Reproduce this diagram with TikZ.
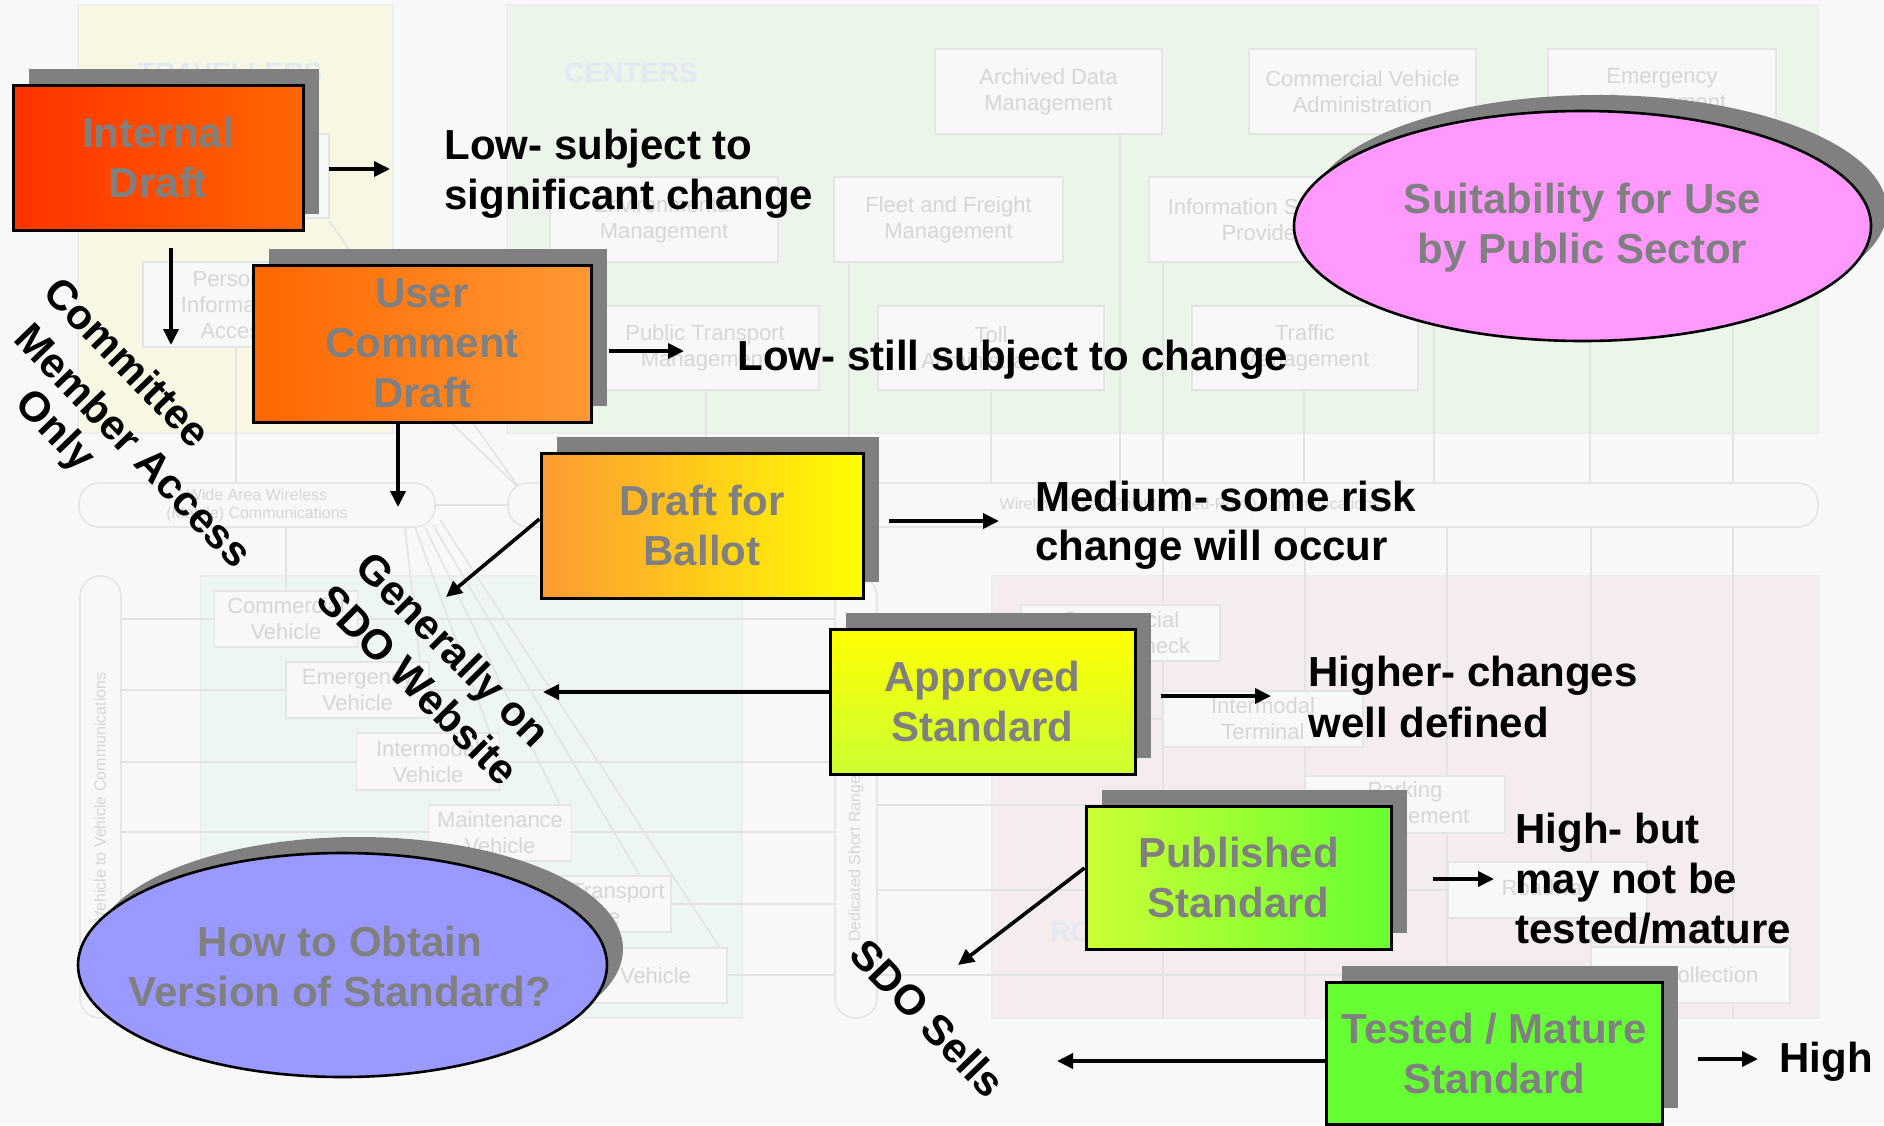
\documentclass[tikz,border=0pt]{standalone}
\usepackage{fontspec}
\setmainfont{Liberation Sans}
\usetikzlibrary{arrows.meta,shapes.geometric,shadows}
\definecolor{bgc}{HTML}{F8F8F8}
\definecolor{travc}{HTML}{F7F7E4}
\definecolor{centc}{HTML}{EBF5EA}
\definecolor{vehc}{HTML}{EDF6F1}
\definecolor{roadc}{HTML}{F5EDED}
\definecolor{panb}{HTML}{EDEDED}
\definecolor{bgboxc}{HTML}{F8F8F8}
\definecolor{bgboxb}{HTML}{E5E5E5}
\definecolor{bgtxt}{HTML}{D6D6D6}
\definecolor{bgline}{HTML}{E3E3E3}
\definecolor{ttlc}{HTML}{E3E8F2}
\definecolor{shadowc}{HTML}{808080}
\definecolor{labelgray}{HTML}{808080}
\definecolor{cA}{HTML}{FF3300}
\definecolor{cB}{HTML}{FF6600}
\definecolor{cC}{HTML}{FF9933}
\definecolor{cD}{HTML}{FFFF00}
\definecolor{cE}{HTML}{CCFF33}
\definecolor{cF}{HTML}{66FF33}
\definecolor{pinkc}{HTML}{FF99FF}
\definecolor{bluec}{HTML}{9999FF}
\newcommand\stagefont{\fontsize{21pt}{25pt}\selectfont\bfseries}
\newcommand\bgfont{\fontsize{11pt}{13pt}\selectfont}
\newcommand\barfont{\fontsize{8pt}{9pt}\selectfont}
\newcommand\ttlfont{\fontsize{14pt}{16pt}\selectfont\bfseries}
\tikzset{
  stage/.style={rectangle, draw=black, line width=1.5pt, font=\stagefont, text=labelgray, align=center, inner sep=0pt,
    general shadow={fill=shadowc, shadow xshift=8pt, shadow yshift=8pt}},
  oval/.style={ellipse, draw=black, line width=1.3pt, inner sep=0pt,
    general shadow={fill=shadowc, shadow xshift=8pt, shadow yshift=8pt}},
  ovaltext/.style={font=\stagefont, text=labelgray, align=center, inner sep=0pt},
  conn/.style={line width=1.8pt, -{Triangle[length=8pt,width=7.5pt]}},
  lbl/.style={anchor=base west, inner sep=0pt, font=\stagefont, text=black},
  slant/.style={font=\stagefont, text=black, inner sep=0pt, rotate=-46, align=center},
  panel/.style={draw=panb, line width=0.8pt},
  bgl/.style={draw=bgline, line width=0.8pt},
  bar/.style={draw=bgboxb, fill=bgboxc, line width=0.8pt, rounded corners=10pt},
  bgbox/.style={rectangle, draw=bgboxb, fill=bgboxc, line width=0.8pt, font=\bgfont, text=bgtxt, align=center, inner sep=0pt},
  bartext/.style={font=\barfont, text=bgtxt, align=center, inner sep=0pt},
  ttl/.style={font=\ttlfont, text=ttlc, inner sep=0pt},
}
\begin{document}
\begin{tikzpicture}[x=0.5pt,y=-0.5pt]
\useasboundingbox (0,0) rectangle (1884,1125);
\fill[bgc] (0,0) rectangle (1884,1125);
% ---------- faint background architecture ----------
\draw[panel,fill=travc] (78,5) rectangle (393,433);
\draw[panel,fill=centc] (507,5) rectangle (1818,433);
\draw[panel,fill=vehc] (201,576) rectangle (742,1018);
\draw[panel,fill=roadc] (992,576) rectangle (1819,1018);
\node[ttl] (tTrav) at (230,73) {TRAVELLERS};
\node[ttl] (tCent) at (631,73) {CENTERS};
\node[ttl] (tRoad) at (1124,932) {ROADSIDE};
\draw[bgl] (236,347) -- (236,483);
\draw[bgl] (329,221) -- (520,489);
\draw[bgl] (329,305) -- (520,489);
\draw[bgl] (435,505) -- (508,505);
\draw[bgl] (286,527) -- (286,591);
\foreach \xx/\yy in {706/389, 849/262, 991/389, 1120/134, 1163/262, 1304/389, 1434/134, 1590/134, 1733/134}
  \draw[bgl] (\xx,\yy) -- (\xx,483);
\foreach \xx in {1163,1305,1447,1591,1733}
  \draw[bgl] (\xx,527) -- (\xx,1018);
\foreach \yy in {619,690,762,832,904,975}
  \draw[bgl] (121,\yy) -- (835,\yy);
\foreach \yy/\xx in {633/1021,719/1163,805/1305,890/1448,975/1591}
  \draw[bgl] (877,\yy) -- (\xx,\yy);
\foreach \xa/\ya/\xb/\yb in {405/527/420/662, 415/527/490/733, 425/527/560/805, 433/525/640/876, 440/520/720/948}
  \draw[bgl] (\xa,\ya) -- (\xb,\yb);
\draw[bar] (79,483) rectangle (435,527);
\draw[bar] (508,483) rectangle (1818,527);
\draw[bar] (80,576) rectangle (121,1018);
\draw[bar] (835,576) rectangle (877,1018);
\node[bartext] (waw) at (257,505) {Wide Area Wireless\\(Mobile) Communications};
\node[bartext] (wire) at (1190,505) {Wireline (Fixed-Point to Fixed-Point) Communications};
\node[bartext, rotate=90] (v2v) at (100,797) {Vehicle to Vehicle Communications};
\node[bartext, rotate=90] (dsrc) at (856,797) {Dedicated Short Range Communications};
\foreach \nm/\xx/\yy/\ww/\hh/\tt in {
  bRts/236/176/93/42/{Remote Traveler\\Support},
  bPia/236/304.5/93/42.5/{Personal\\Information\\Access},
  bAdm/1048.5/91.5/113.5/42.5/{Archived Data\\Management},
  bCva/1362.5/91.5/113.5/42.5/{Commercial Vehicle\\Administration},
  bEmg/1662/91.5/114/42.5/{Emergency\\Management},
  bEnv/664/219.5/114/42.5/{Environmental\\Management},
  bFfm/948.5/219.5/114.5/42.5/{Fleet and Freight\\Management},
  bIsp/1262.5/219.5/113.5/42.5/{Information Service\\Provider},
  bPtm/705/348/114/42/{Public Transport\\Management},
  bTol/991/348/113/42/{Toll\\Administration},
  bTrf/1305/348/113/42/{Traffic\\Management},
  bCvh/286/619/71.5/28/{Commercial\\Vehicle},
  bEvh/357.5/690/71.5/28/{Emergency\\Vehicle},
  bIvh/428/761.5/71.5/28.5/{Intermodal\\Vehicle},
  bMvh/500/833/71.5/28/{Maintenance\\Vehicle},
  bTvh/585/904/86/28/{Public Transport\\Vehicle},
  bVvh/655.5/975.5/71.5/27.5/{Vehicle},
  bCvc/1120.5/633/99.5/28/{Commercial\\Vehicle Check},
  bImt/1263/719/100/28/{Intermodal\\Terminal},
  bPkm/1405/804.5/100/28.5/{Parking\\Management},
  bRdw/1547.5/890/99.5/28/{Roadway},
  bTcl/1690.5/975/99.5/28/{Toll Collection}}
  \node[bgbox, minimum width=\ww pt, minimum height=\hh pt] (\nm) at (\xx,\yy) {\tt};
% ---------- stages ----------
\node[stage, minimum width=145pt, minimum height=72.5pt, left color=cA, right color=cB] (id) at (158,157.5) {Internal\\Draft};
\node[stage, minimum width=169pt, minimum height=78.5pt, left color=cB, right color=cC] (ucd) at (422,343.5) {User\\Comment\\Draft};
\node[stage, minimum width=161pt, minimum height=72.5pt, left color=cC, right color=cD] (dfb) at (702,525.5) {Draft for\\Ballot};
\node[stage, minimum width=152.5pt, minimum height=72.5pt, top color=cD, bottom color=cE] (aps) at (982.5,701.5) {Approved\\Standard};
\node[stage, minimum width=152.5pt, minimum height=71.5pt, left color=cE, right color=cF] (pub) at (1238.5,877.5) {Published\\Standard};
\node[stage, minimum width=168pt, minimum height=71pt, fill=cF] (tms) at (1494,1053) {Tested / Mature\\Standard};
% ---------- ovals ----------
\node[oval, fill=pinkc, minimum width=288.5pt, minimum height=115pt] (pink) at (1582.5,226) {};
\node[ovaltext] (pinkt) at (1582.5,228) {Suitability for Use\\by Public Sector};
\node[oval, fill=bluec, minimum width=264.5pt, minimum height=112pt] (blue) at (342.5,965) {};
\node[ovaltext] (bluet) at (340,966) {How to Obtain\\Version of Standard?};
% ---------- labels ----------
\node[lbl] (l1a) at (444,159) {Low- subject to};
\node[lbl] (l1b) at (444,209) {significant change};
\node[lbl] (l2) at (737,370) {Low- still subject to change};
\node[lbl] (l3a) at (1035,511) {Medium- some risk};
\node[lbl] (l3b) at (1035,560) {change will occur};
\node[lbl] (l4a) at (1308,686) {Higher- changes};
\node[lbl] (l4b) at (1308,737) {well defined};
\node[lbl] (l5a) at (1515,843) {High- but};
\node[lbl] (l5b) at (1515,893) {may not be};
\node[lbl] (l5c) at (1515,943) {tested/mature};
\node[lbl] (l6) at (1779,1072) {High};
\node[slant] (cm1) at (128,362) {Committee};
\node[slant] (cm2) at (134,445) {Member Access};
\node[slant] (cm3) at (54,432) {Only};
\node[slant, rotate=1] (web) at (436,667) {Generally on\\SDO Website};
\node[slant] (sells) at (928,1018) {SDO Sells};
% ---------- connectors ----------
\coordinate (e1) at (390,169);
\coordinate (e2) at (171,345);
\coordinate (e3) at (684,351);
\coordinate (e4) at (398,507);
\coordinate (e5) at (446,597);
\coordinate (e6) at (999,521);
\coordinate (e7) at (543,692);
\coordinate (e8) at (1271,696);
\coordinate (e9) at (1494,879);
\coordinate (e10) at (958,965);
\coordinate (e11) at (1057,1061);
\coordinate (e12) at (1758,1059);
\draw[conn] ([xshift=12pt,yshift=-5.75pt]id.east) -- (e1);
\draw[conn] ([xshift=6.5pt,yshift=-8pt]id.south) -- (e2);
\draw[conn] ([xshift=8pt,yshift=-3.75pt]ucd.east) -- (e3);
\draw[conn] ([xshift=-12pt]ucd.south) -- (e4);
\draw[conn] ([yshift=3.25pt]dfb.west) -- (e5);
\draw[conn] ([xshift=12pt,yshift=2.25pt]dfb.east) -- (e6);
\draw[conn] ([yshift=4.75pt]aps.west) -- (e7);
\draw[conn] ([xshift=12pt,yshift=2.75pt]aps.east) -- (e8);
\draw[conn] ([xshift=20pt,yshift=-0.75pt]pub.east) -- (e9);
\draw[conn] ([yshift=4.75pt]pub.west) -- (e10);
\draw[conn] ([yshift=-4pt]tms.west) -- (e11);
\draw[conn] ([xshift=17pt,yshift=-3pt]tms.east) -- (e12);
\end{tikzpicture}
\end{document}
